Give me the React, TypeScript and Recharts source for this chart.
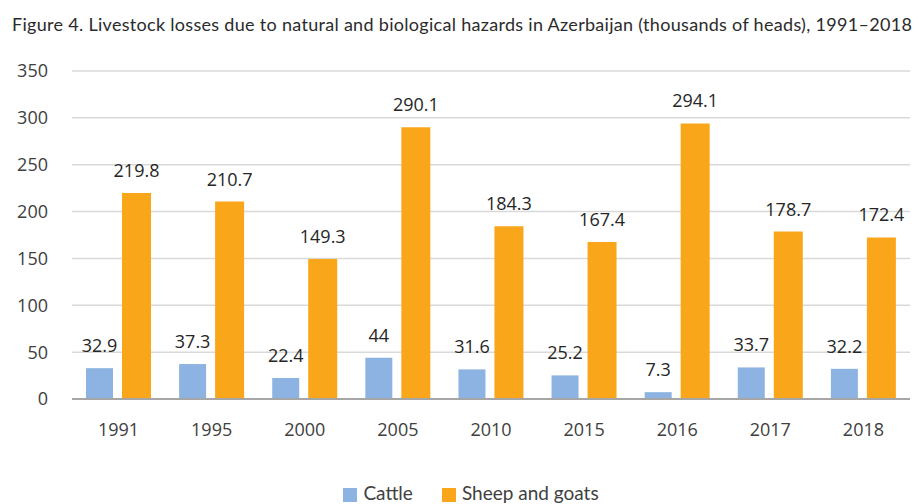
import { Bar, BarChart, CartesianGrid, LabelList, Legend, XAxis, YAxis } from "recharts";

const years = ["1991", "1995", "2000", "2005", "2010", "2015", "2016", "2017", "2018"];
const cattle = [32.9, 37.3, 22.4, 44, 31.6, 25.2, 7.3, 33.7, 32.2];
const sheepAndGoats = [219.8, 210.7, 149.3, 290.1, 184.3, 167.4, 294.1, 178.7, 172.4];
const yTicks = [0, 50, 100, 150, 200, 250, 300, 350];

const data = years.map((year, i) => ({ year, cattle: cattle[i], sheep: sheepAndGoats[i] }));

const tickFont = { fill: "#404040", fontSize: 18, fontFamily: "Open Sans" };
const labelStyle = { fill: "#262626", fontSize: 18, fontFamily: "Open Sans" };

export default function App() {
  return (
    <div style={{ position: "absolute", left: 0, top: 0, width: 919, height: 504, background: "#fff" }}>
      <div
        style={{
          position: "absolute",
          left: 12,
          top: 13,
          fontFamily: "Lato",
          fontSize: 18,
          letterSpacing: 0.3,
          color: "#2b2b2b",
          whiteSpace: "nowrap",
        }}
      >
        Figure 4. Livestock losses due to natural and biological hazards in Azerbaijan (thousands of heads), 1991–2018
      </div>
      <BarChart
        width={919}
        height={504}
        data={data}
        margin={{ top: 71, right: 9, bottom: 42, left: 0 }}
        barGap={9}
        barCategoryGap={14}
      >
        <CartesianGrid stroke="#d9d9d9" strokeWidth={1.5} vertical={false} />
        <XAxis
          dataKey="year"
          axisLine={{ stroke: "#a6a6a6", strokeWidth: 2 }}
          tickLine={false}
          tickSize={0}
          tickMargin={24}
          height={40}
          tick={tickFont}
        />
        <YAxis
          domain={[0, 350]}
          ticks={yTicks}
          axisLine={false}
          tickLine={false}
          tickSize={0}
          tickMargin={24}
          width={72}
          tick={tickFont}
        />
        <Legend
          verticalAlign="bottom"
          iconType="square"
          iconSize={14}
          wrapperStyle={{ position: "absolute", top: 481, left: 26, width: 919, fontFamily: "Lato", fontSize: 19 }}
          formatter={(value) => <span style={{ color: "#404040", marginLeft: 2, marginRight: 19 }}>{value}</span>}
        />
        <Bar dataKey="cattle" name="Cattle" fill="#8db3e2" barSize={27} isAnimationActive={false}>
          <LabelList dataKey="cattle" position="top" offset={16} style={labelStyle} />
        </Bar>
        <Bar dataKey="sheep" name="Sheep and goats" fill="#f9a61a" barSize={29} isAnimationActive={false}>
          <LabelList dataKey="sheep" position="top" offset={16} style={labelStyle} />
        </Bar>
      </BarChart>
    </div>
  );
}
